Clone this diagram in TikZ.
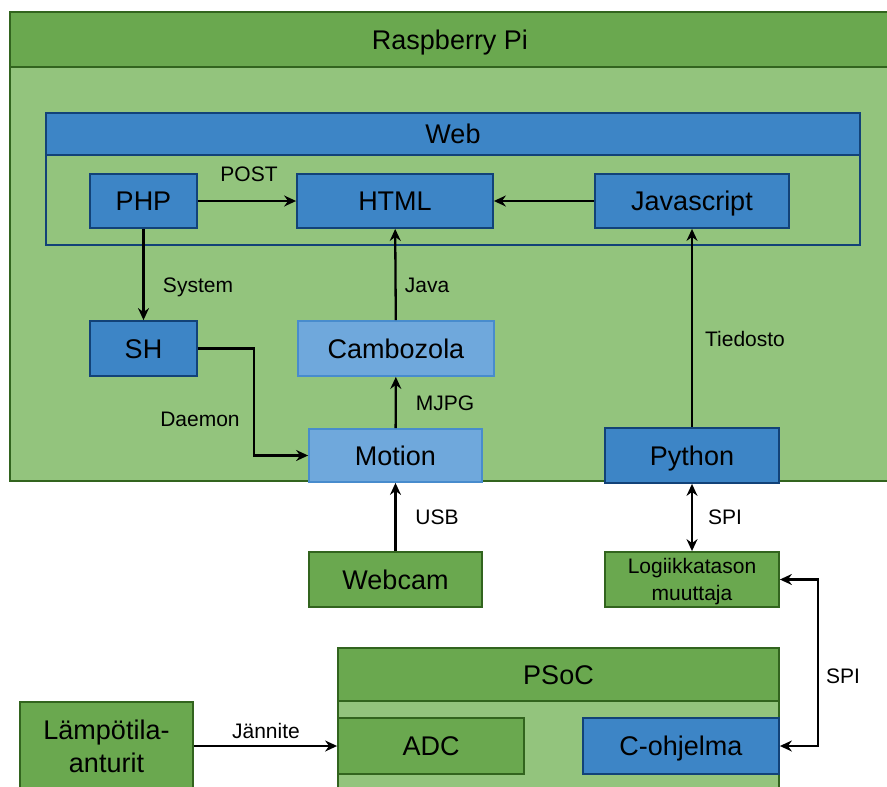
\documentclass[tikz,border=0pt]{standalone}
\usepackage{fontspec}
\setmainfont{Liberation Sans}
\usetikzlibrary{arrows.meta,positioning}
\definecolor{headgreen}{RGB}{106,168,79}
\definecolor{bodygreen}{RGB}{147,196,125}
\definecolor{linegreen}{RGB}{50,100,30}
\definecolor{boxblue}{RGB}{61,133,198}
\definecolor{lineblue}{RGB}{18,66,120}
\definecolor{paleblue}{RGB}{111,168,220}
\definecolor{palebluel}{RGB}{72,140,205}

\begin{document}
\begin{tikzpicture}[x=1pt, y=-1pt, >={Stealth[length=12pt,width=11pt,inset=4pt]}]
	\tikzstyle{every node} = [rectangle, inner sep=0pt, text height=24pt, text depth=4.6pt, font=\fontsize{27}{33}\selectfont]
	\tikzstyle{gbody} = [draw=linegreen, line width=1.8pt, fill=bodygreen]
	\tikzstyle{ghead} = [draw=linegreen, line width=1.8pt, fill=headgreen]
	\tikzstyle{bbox} = [draw=lineblue, line width=1.8pt, fill=boxblue]
	\tikzstyle{pbox} = [draw=palebluel, line width=1.8pt, fill=paleblue]
	\tikzstyle{wbody} = [draw=lineblue, line width=1.8pt, fill=bodygreen]
	\tikzstyle{lbl} = [font=\fontsize{21}{27}\selectfont, text height=18pt, text depth=3.4pt, align=center]
	\tikzstyle{flow} = [draw, line width=2.3pt]
\clip (0,0) rectangle (887,787);
\fill[white] (0,0) rectangle (887,787);
\node[gbody, minimum width=880, minimum height=414] (rpi) at (450,274) {};
\node[ghead, minimum width=880, minimum height=55] (rpihead) at (450,39.5) {Raspberry Pi};
\node[wbody, minimum width=814, minimum height=132] (web) at (453,179) {};
\node[bbox, minimum width=814, minimum height=42] (webhead) at (453,134) {Web};
\node[bbox, minimum width=107, minimum height=54] (php) at (143.5,201) {PHP};
\node[bbox, minimum width=196, minimum height=54] (html) at (395,201) {HTML};
\node[bbox, minimum width=194, minimum height=54] (js) at (692,201) {Javascript};
\node[bbox, minimum width=107, minimum height=55] (sh) at (143.5,348.5) {SH};
\node[pbox, minimum width=196, minimum height=55] (cambo) at (396,348.5) {Cambozola};
\node[pbox, minimum width=173, minimum height=53] (motion) at (395.5,455.5) {Motion};
\node[bbox, minimum width=174, minimum height=55] (python) at (692,455.5) {Python};
\node[ghead, minimum width=173, minimum height=55] (webcam) at (395.5,579.5) {Webcam};
\node[ghead, minimum width=174, minimum height=55, lbl, text height=45pt] (logic) at (692,579.5) {Logiikkatason\\muuttaja};
\node[gbody, minimum width=441, minimum height=147] (psoc) at (558.5,721.5) {};
\node[ghead, minimum width=441, minimum height=53] (psochead) at (558.5,674.5) {PSoC};
\node[ghead, minimum width=186, minimum height=56] (adc) at (431,746) {ADC};
\node[bbox, minimum width=196, minimum height=56] (cprog) at (681,746) {C-ohjelma};
\node[ghead, minimum width=173, minimum height=88, align=center, text height=57pt] (sensor) at (106.5,746) {Lämpötila-\\anturit};
	\path[flow][->] (php) -- (html);
	\path[flow][->] (js) -- (html);
	\path[flow][->] (php) -- (sh);
	\path[flow][->] (cambo) -- (html);
	\path[flow][->] (motion) -- (cambo);
	\path[flow][->] (sh.east) -- ++(56,0) |- (motion.west);
	\path[flow][->] (webcam) -- (motion);
	\path[flow][->] (python.north) -- (js.south);
	\path[flow][<->] (python) -- (logic);
	\path[flow][<->] (logic.east) -- ++(38,0) |- (cprog.east);
	\path[flow][->] (sensor.east |- adc.west) -- (adc.west);
\node[lbl] at (249,174) {POST};
\node[lbl] at (198,285) {System};
\node[lbl] at (427,285) {Java};
\node[lbl] at (445,403) {MJPG};
\node[lbl] at (200,419) {Daemon};
\node[lbl] at (437,517) {USB};
\node[lbl] at (745,339) {Tiedosto};
\node[lbl] at (725,517) {SPI};
\node[lbl] at (843,676) {SPI};
\node[lbl] at (266,731) {Jännite};
	\end{tikzpicture}
\end{document}
